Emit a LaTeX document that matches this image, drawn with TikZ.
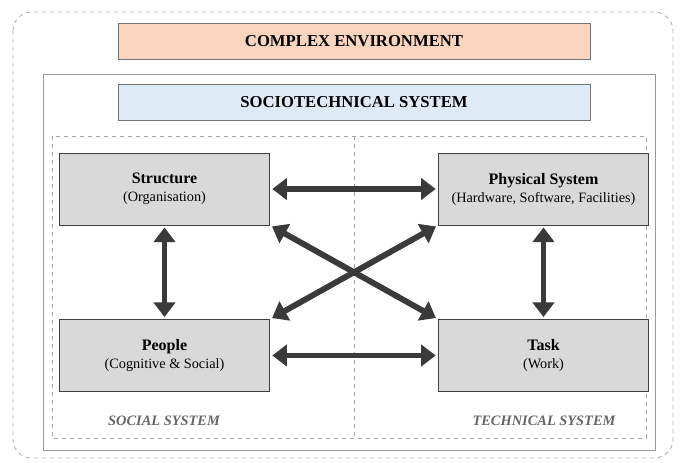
\documentclass[tikz,border=0pt]{standalone}
\usepackage{fontspec}
\setmainfont{Liberation Serif}
\usetikzlibrary{arrows.meta}
\definecolor{peach}{HTML}{F9D5BF}
\definecolor{paleblue}{HTML}{DEEAF6}
\definecolor{boxgray}{HTML}{D9D9D9}
\definecolor{arrowgray}{HTML}{3A3A3A}
\tikzset{
  titlebox/.style={draw=black!55, line width=0.6pt, minimum width=354pt, minimum height=27pt, inner sep=0pt, font=\fontsize{12.5}{14}\selectfont\bfseries},
  partbox/.style={draw=black!75, fill=boxgray, line width=0.7pt, minimum width=158pt, minimum height=54pt, inner sep=0pt, align=center, font=\fontsize{10.7}{13.5}\selectfont},
  sysname/.style={text=black!60, font=\fontsize{10.8}{12}\selectfont\bfseries\itshape},
  biarrow/.style={draw=arrowgray, line width=4.4pt, {Triangle[length=11pt,width=16pt]}-{Triangle[length=11pt,width=16pt]}, shorten <=1.5pt, shorten >=1.5pt}
}
\newcommand{\boxhead}[1]{{\fontsize{12}{13.5}\selectfont\bfseries #1}}
\begin{document}
\begin{tikzpicture}[x=0.75pt, y=-0.75pt]
			%%%%% START %%%%%
			\useasboundingbox (0, 0) rectangle (683, 462);
			
			\draw[black!30, dashed, line width=0.7pt, rounded corners=14pt] (13, 12) rectangle (673, 458);
			\node[titlebox, fill=peach] (env) at (354, 41) {COMPLEX ENVIRONMENT};
			
			\draw[black!40, line width=0.7pt] (43, 74) rectangle (655, 450);
			\node[titlebox, fill=paleblue] (socio) at (354, 102) {SOCIOTECHNICAL SYSTEM};
			
			\draw[black!35, dashed, line width=0.6pt] (52, 136) rectangle (646, 438);
			\draw[black!35, dashed, line width=0.6pt] (354, 136) -- (354, 438);
			
			\node[partbox] (struct) at (164.5, 189) {\boxhead{Structure}\\(Organisation)};
			\node[partbox] (phys) at (543.5, 189) {\boxhead{Physical System}\\(Hardware, Software, Facilities)};
			\node[partbox] (people) at (164.5, 355.5) {\boxhead{People}\\(Cognitive \& Social)};
			\node[partbox] (task) at (543.5, 355.5) {\boxhead{Task}\\(Work)};
			
			\node[sysname] (social) at (164, 421) {SOCIAL SYSTEM};
			\node[sysname] (technical) at (544, 421) {TECHNICAL SYSTEM};
			
			\draw[biarrow] (struct.east) -- (phys.west);
			\draw[biarrow] (people.east) -- (task.west);
			\draw[biarrow] (struct.south) -- (people.north);
			\draw[biarrow] (phys.south) -- (task.north);
			\draw[biarrow] (struct.south east) -- (task.north west);
			\draw[biarrow] (phys.south west) -- (people.north east);
			%%%%% END %%%%%
\end{tikzpicture}
\end{document}
